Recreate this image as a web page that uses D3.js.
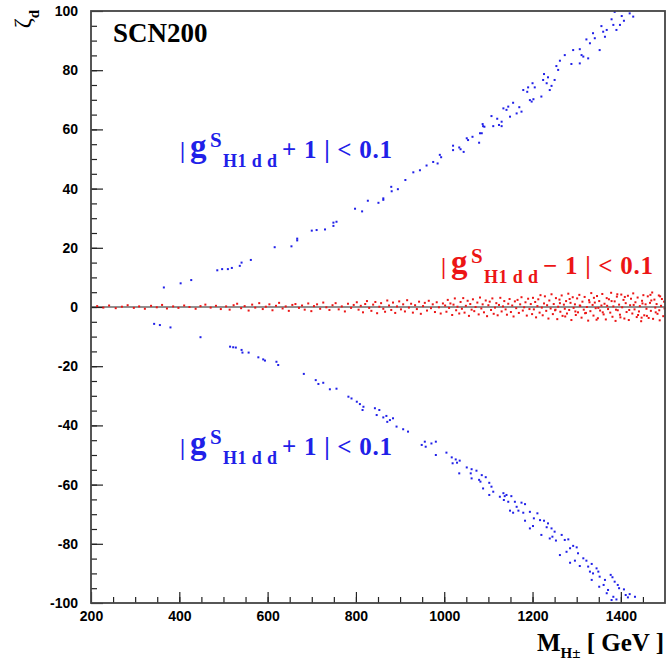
<!DOCTYPE html>
<html>
<head>
<meta charset="utf-8">
<style>
body { margin: 0; background: #fff; }
svg { display: block; font-family: "Liberation Serif", "Times New Roman", serif; }
.tick text { font-size: 14px; font-weight: bold; fill: #000; }
.tick line { stroke: #222; stroke-width: 1.2; }
</style>
</head>
<body>

<svg id="chart" width="672" height="661"></svg>

<script src="https://d3js.org/d3.v7.min.js"></script>
<script>

// axis ticks
var xTicks = [200, 400, 600, 800, 1000, 1200, 1400];
var yTicks = [-100, -80, -60, -40, -20, 0, 20, 40, 60, 80, 100];

// |g^S_H1dd + 1| < 0.1, upper branch  [M_H+-, zeta_d]
var blueUpper = [
    [365,6.6],[403,8.0],[427,9.1],[486,12.4],[497,12.8],[510,12.8],[519,13.2],[537,13.9],
    [541,15.0],[562,15.9],[616,20.2],[654,20.5],[667,23.1],[667,22.5],[700,25.8],[711,26.0],
    [730,26.2],[749,27.4],[749,28.5],[756,28.8],[798,33.2],[814,32.3],[827,35.9],[851,35.2],
    [862,36.7],[862,36.2],[880,40.6],[881,39.1],[895,39.8],[912,42.9],[930,45.5],[945,46.2],
    [960,47.8],[975,49.0],[985,48.5],[990,51.4],[993,50.6],[1020,53.0],[1020,54.5],[1034,53.9],
    [1037,53.3],[1044,52.4],[1051,57.0],[1054,56.4],[1064,57.5],[1079,55.5],[1081,58.7],[1085,58.7],
    [1087,61.8],[1088,61.1],[1091,60.9],[1107,64.5],[1111,61.1],[1120,63.6],[1124,61.5],[1130,62.6],
    [1130,61.1],[1134,67.1],[1141,66.6],[1145,67.7],[1149,64.3],[1156,69.0],[1164,65.4],[1170,67.5],
    [1175,66.0],[1179,73.3],[1188,72.7],[1190,74.2],[1194,69.9],[1198,69.4],[1202,70.2],[1200,75.6],
    [1205,74.2],[1220,71.1],[1224,76.7],[1226,78.7],[1232,75.6],[1235,77.6],[1239,73.3],[1243,74.7],
    [1250,76.7],[1254,81.4],[1258,80.1],[1262,83.2],[1273,85.1],[1288,82.1],[1292,86.8],[1307,87.1],
    [1307,82.3],[1311,85.1],[1315,84.6],[1322,90.4],[1326,84.0],[1330,89.1],[1337,92.5],[1341,90.8],
    [1352,86.8],[1356,94.9],[1360,93.0],[1364,91.3],[1368,93.6],[1379,97.2],[1383,95.3],[1390,93.6],
    [1398,95.3],[1402,98.3],[1407,96.7],[1420,99.2],[1428,98.1],[1386,99.7]
];

// |g^S_H1dd + 1| < 0.1, lower branch
var blueLower = [
    [343,-5.7],[356,-6.1],[380,-6.9],[448,-10.2],[515,-13.4],[522,-13.6],[528,-13.7],[541,-14.5],
    [543,-15.4],[557,-15.4],[579,-17.0],[590,-17.7],[594,-18.1],[620,-18.5],[624,-19.6],[682,-22.6],
    [709,-24.7],[715,-26.0],[726,-25.6],[741,-27.8],[756,-27.6],[783,-30.3],[790,-30.9],[802,-32.0],
    [809,-32.8],[817,-33.7],[815,-34.8],[843,-34.2],[853,-34.8],[847,-36.5],[862,-37.3],[869,-36.8],
    [877,-38.2],[871,-38.8],[884,-37.6],[892,-40.4],[907,-41.3],[918,-42.1],[949,-46.6],[956,-45.5],
    [958,-47.2],[971,-46.1],[981,-45.5],[981,-50.0],[1005,-49.2],[1017,-50.8],[1019,-52.8],[1026,-51.5],
    [1029,-52.6],[1035,-51.9],[1034,-56.2],[1051,-54.2],[1062,-54.8],[1060,-56.2],[1062,-57.9],[1073,-55.3],
    [1079,-58.4],[1082,-59.0],[1085,-56.8],[1094,-57.5],[1088,-61.3],[1102,-59.4],[1102,-63.5],[1107,-60.7],
    [1111,-62.4],[1126,-64.1],[1134,-62.9],[1137,-63.9],[1141,-63.5],[1135,-65.2],[1145,-65.8],[1152,-63.9],
    [1149,-68.8],[1160,-65.8],[1156,-69.5],[1164,-67.5],[1168,-68.8],[1175,-66.1],[1179,-69.5],[1183,-66.6],
    [1183,-72.2],[1194,-69.2],[1194,-74.8],[1203,-71.4],[1211,-69.7],[1201,-74.0],[1217,-72.0],[1220,-77.0],
    [1226,-72.2],[1232,-74.4],[1235,-73.1],[1239,-78.2],[1243,-74.8],[1245,-77.6],[1250,-75.9],[1253,-78.9],
    [1266,-77.0],[1273,-78.7],[1281,-78.5],[1285,-81.5],[1262,-83.8],[1277,-82.7],[1292,-80.7],[1300,-81.2],
    [1303,-83.2],[1285,-86.4],[1296,-85.7],[1307,-87.5],[1315,-84.9],[1322,-85.7],[1326,-87.7],[1334,-86.8],
    [1330,-89.4],[1337,-90.0],[1345,-88.3],[1349,-89.4],[1334,-92.2],[1352,-91.1],[1351,-94.5],[1361,-93.9],
    [1364,-92.2],[1377,-90.5],[1381,-91.3],[1371,-95.6],[1368,-96.7],[1383,-97.9],[1379,-99.0],[1386,-92.8],
    [1393,-93.9],[1396,-95.0],[1407,-95.4],[1411,-97.3],[1420,-97.0],[1432,-97.9],[1416,-98.1],[1390,-98.8]
];

// |g^S_H1dd - 1| < 0.1
var redCentre = [
    [214,0.3],[228,-0.2],[241,0.5],[256,-0.4],[270,0.1],[283,0.6],[297,-0.3],[309,0.2],[322,-0.6],[336,0.4],
    [349,-0.1],[361,0.7],[372,-0.5],[386,0.2],[398,-0.3],[411,0.5],[423,0.0],[437,-0.6],[448,0.3],[459,0.8],
    [471,-0.2],[483,0.4],[494,-0.7],
    [506,0.2],[514,-0.9],[523,0.6],[531,1.1],[540,-0.4],[548,0.3],[557,-1.2],[565,0.8],[572,-0.2],[581,1.3],
    [589,-0.7],[596,0.1],[604,0.9],[611,-1.1],[619,0.4],[626,1.4],[634,-0.5],[641,0.2],[648,-1.3],[656,0.7],
    [663,1.0],[671,-0.3],[678,0.5],[684,-0.9],[692,1.2],[699,-1.4],[705,0.3],[712,0.9],[719,-0.6],[726,1.5],
    [733,-0.1],[740,-1.0],[747,0.6],[754,1.3],[761,-0.8],[768,0.2],[775,-1.5],[782,1.1],[789,-0.3],[795,0.7],
    [802,1.6],[806,-0.9],[811,0.4],[816,-1.8],[821,1.0],[825,2.0],[830,-0.3],[835,-1.3],[839,0.8],[844,1.7],
    [848,-2.1],[853,0.1],[857,1.3],[862,-0.6],[866,-1.6],[871,2.2],[875,0.5],[880,-1.0],[884,1.5],[889,-2.0],
    [893,0.2],[898,1.9],[902,-0.8],[907,0.9],[911,-1.5],[916,2.3],[920,-0.2],[925,1.1],[929,-1.9],[934,0.6],
    [938,-0.7],[943,1.8],[947,-2.3],[952,0.3],[956,1.4],[961,-1.2],[965,2.1],[970,-0.4],[974,0.9],[979,-1.7],
    [983,1.6],[988,-0.1],[992,-2.2],[997,1.2],
    [1002,0.5],[1005,-1.6],[1008,2.4],[1011,-0.3],[1014,1.2],[1018,-2.7],[1021,0.8],[1024,2.9],[1027,-1.1],
    [1030,0.1],[1034,-2.2],[1037,1.7],[1040,-0.6],[1043,3.0],[1046,-1.9],[1049,0.4],[1053,2.1],[1056,-3.0],
    [1059,1.0],[1062,-0.9],[1065,2.6],[1068,-1.4],[1071,0.0],[1075,1.5],[1078,-2.5],[1081,3.2],[1084,-0.5],
    [1087,0.9],[1090,-1.8],[1094,2.2],[1097,-3.1],[1100,0.6],[1103,1.8],[1106,-1.0],[1109,2.9],[1112,-2.3],
    [1115,-0.2],[1118,1.3],[1121,-2.8],[1124,0.7],[1127,3.1],[1130,-1.5],[1133,0.2],[1136,2.0],[1139,-0.8],
    [1142,-2.6],[1145,1.1],[1148,2.7],[1151,-1.7],[1154,0.5],[1157,-3.2],[1160,1.9],[1163,-0.4],[1166,2.4],
    [1169,-2.0],[1172,0.9],[1175,3.3],[1178,-1.2],[1181,-0.1],[1184,1.6],[1187,-2.9],[1190,2.8],[1193,-0.7],
    [1196,1.0],[1199,-2.4],
    [1201,3.1],[1203,-0.8],[1206,1.7],[1208,-3.5],[1211,0.3],[1213,2.6],[1216,-1.9],[1218,4.0],[1221,-0.2],
    [1223,-2.8],[1226,1.2],[1228,3.6],[1231,-1.3],[1233,0.6],[1236,-3.9],[1238,2.2],[1241,-0.5],[1243,4.3],
    [1246,-2.4],[1248,1.0],[1251,-1.1],[1253,3.0],[1256,-4.1],[1258,0.1],[1261,2.5],[1263,-1.6],[1266,3.9],
    [1268,-3.0],[1271,0.8],[1273,-0.6],[1276,2.0],[1278,-2.2],[1281,4.5],[1283,-1.0],[1286,1.4],[1288,-4.4],
    [1291,3.3],[1293,-0.3],[1296,0.9],[1298,-2.7],[1301,2.9],[1303,-1.8],[1306,4.1],[1308,0.4],[1311,-3.6],
    [1313,1.8],[1316,-0.9],[1318,3.4],[1321,-2.0],[1323,0.0],[1326,-4.6],[1328,2.3],[1331,-1.4],[1333,4.7],
    [1336,0.7],[1338,-2.9],[1341,1.5],[1343,-0.4],[1346,3.7],[1348,-3.8],[1351,2.0],[1353,-1.2],[1356,0.5],
    [1358,4.4],[1361,-2.5],[1363,1.1],[1366,-4.2],[1368,3.0],[1371,-0.7],[1373,2.6],[1376,-1.9],[1378,4.8],
    [1381,-3.3],[1383,0.2],[1386,1.9],[1388,-4.7],[1391,3.5],[1393,-1.1],[1396,0.8],[1398,-2.6],[1401,4.2],
    [1403,-0.1],[1406,2.4],[1408,-3.9],[1411,1.3],[1413,-1.7],[1416,3.8],[1418,-4.4],[1421,0.6],[1423,2.8],
    [1426,-2.2],[1428,4.6],[1431,-0.8],[1433,1.6],[1436,-3.4],[1438,3.2],[1441,-1.5],[1443,0.3],[1446,-4.8],
    [1448,2.1],[1451,4.0],[1453,-2.8],[1456,0.9],[1458,-0.6],[1461,3.6],[1463,-3.7],[1466,1.4],[1468,-1.3],
    [1471,4.9],[1473,-4.0],[1476,2.5],[1478,-0.2],[1481,1.0],[1483,-2.3],[1486,3.9],[1488,-4.5],[1491,0.4],
    [1493,2.7],[1496,-3.1],[1498,1.8],
    [1252,-0.9],[1262,1.3],[1274,-3.2],[1284,2.7],[1297,-1.5],[1307,0.5],[1319,-2.1],[1329,1.6],[1339,3.1],
    [1349,-0.3],[1359,-1.8],[1369,0.4],[1379,2.0],[1389,-0.9],[1399,-3.5],[1409,3.4],[1419,-1.0],[1429,0.7],
    [1439,-2.7],[1449,1.2],[1459,-3.0],[1469,2.2],[1479,-1.8],[1489,3.6],[1499,-0.5],[1345,-4.3],[1392,4.3],
    [1447,-3.6],[1467,4.1],[1487,-1.1]
];

var frame = {left: 91, right: 665, top: 11, bottom: 603};
var blue = "#2020e8", red = "#ec1515";

var svg = d3.select("#chart");

var x = d3.scaleLinear().domain([200, 1500]).range([frame.left, frame.right]);
var y = d3.scaleLinear().domain([-100, 100]).range([frame.bottom, frame.top]);

// minor ticks
svg.append("g")
    .attr("transform", "translate(0," + frame.bottom + ")")
    .call(d3.axisBottom(x).tickValues(d3.range(250, 1500, 50)).tickSize(-6).tickFormat(""))
    .call(function(g) { g.select(".domain").remove(); });
svg.append("g")
    .attr("transform", "translate(" + frame.left + ",0)")
    .call(d3.axisLeft(y).tickValues(d3.range(-95, 100, 5)).tickSize(-6).tickFormat(""))
    .call(function(g) { g.select(".domain").remove(); });

// major ticks + labels
svg.append("g")
    .attr("transform", "translate(0," + frame.bottom + ")")
    .call(d3.axisBottom(x).tickValues(xTicks).tickSize(-11).tickPadding(8).tickFormat(function(d) { return String(d); }))
    .call(function(g) { g.select(".domain").remove(); });
svg.append("g")
    .attr("transform", "translate(" + frame.left + ",0)")
    .call(d3.axisLeft(y).tickValues(yTicks).tickSize(-12).tickPadding(13).tickFormat(function(d) { return String(d); }))
    .call(function(g) { g.select(".domain").remove(); });

// zero line
svg.append("line")
    .attr("x1", x(200)).attr("x2", x(1500))
    .attr("y1", y(0)).attr("y2", y(0))
    .attr("stroke", "#222").attr("stroke-width", 1.2);

// points
function dots(data, colour) {
    svg.append("g").selectAll("rect")
        .data(data)
        .enter()
        .append("rect")
        .attr("x", function(d) { return x(d[0]) - 1; })
        .attr("y", function(d) { return y(d[1]) - 1; })
        .attr("width", 2)
        .attr("height", 2)
        .attr("fill", colour);
}
dots(redCentre, red);
dots(blueUpper, blue);
dots(blueLower, blue);

// frame
svg.append("rect")
    .attr("x", frame.left).attr("y", frame.top)
    .attr("width", frame.right - frame.left)
    .attr("height", frame.bottom - frame.top)
    .attr("fill", "none")
    .attr("stroke", "#444")
    .attr("stroke-width", 1.8);

// SCN200
svg.append("text")
    .attr("x", 113).attr("y", 42)
    .attr("font-size", 27).attr("font-weight", "bold")
    .text("SCN200");

// y title
var yt = svg.append("text")
    .attr("transform", "translate(30,10) rotate(-90)")
    .attr("text-anchor", "end");
yt.append("tspan").attr("font-size", 24).text("ζ");
yt.append("tspan").attr("font-size", 15).attr("font-weight", "bold").attr("dy", 9).text("d");

// x title
var xt = svg.append("text")
    .attr("x", 664).attr("y", 651)
    .attr("text-anchor", "end")
    .attr("font-weight", "bold");
xt.append("tspan").attr("font-size", 25).text("M");
xt.append("tspan").attr("font-size", 15).attr("dy", 7).text("H±");
xt.append("tspan").attr("font-size", 25).attr("dy", -7).text(" [ GeV ]");

// coupling labels
function coupling(x0, y0, colour, sign) {
    var g = svg.append("g").attr("fill", colour).attr("font-weight", "bold");
    g.append("text").attr("x", x0).attr("y", y0).attr("font-size", 23).text("|");
    g.append("text").attr("x", x0 + 10).attr("y", y0 - 1).attr("font-size", 33).text("g");
    g.append("text").attr("x", x0 + 30).attr("y", y0 - 11).attr("font-size", 21).text("S");
    g.append("text").attr("x", x0 + 43).attr("y", y0 + 9).attr("font-size", 18)
        .attr("textLength", 54).attr("lengthAdjust", "spacing").text("H1 d d");
    g.append("text").attr("x", x0 + 102).attr("y", y0).attr("font-size", 25)
        .attr("textLength", 110).attr("lengthAdjust", "spacing").text(sign + " 1 | < 0.1");
}
coupling(180, 158, blue, "+");
coupling(441, 274, red, "\u2212");
coupling(180, 455, blue, "+");

</script>
</body>
</html>
